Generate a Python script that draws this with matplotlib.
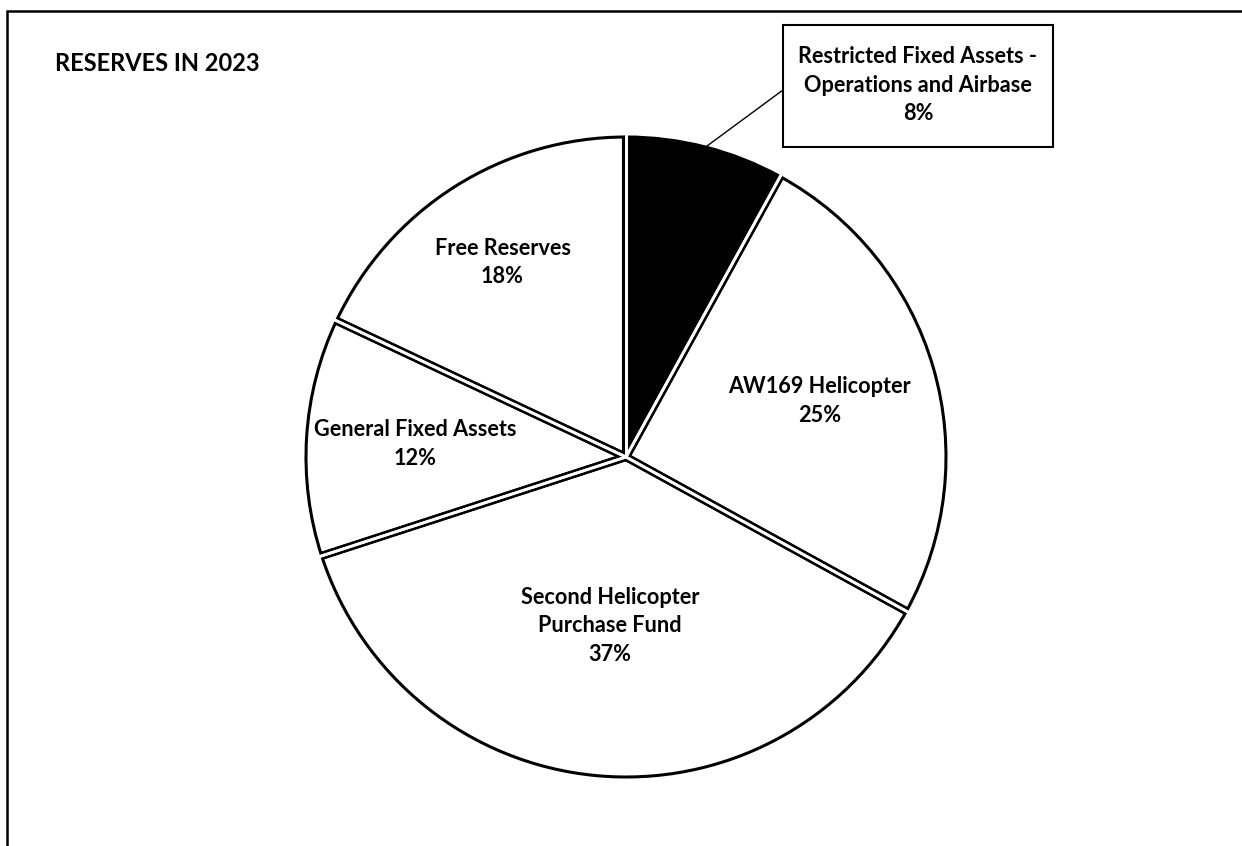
import numpy as np
import matplotlib
matplotlib.use("Agg")
import matplotlib.pyplot as plt
from matplotlib.patches import Rectangle

plt.rcParams['font.family'] = ['Lato', 'DejaVu Sans']

title = "RESERVES IN 2023"
categories = ["Restricted Fixed Assets -\nOperations and Airbase",
              "AW169 Helicopter",
              "Second Helicopter\nPurchase Fund",
              "General Fixed Assets",
              "Free Reserves"]
values = [8, 25, 37, 12, 18]
colors = ["black", "white", "white", "white", "white"]

W, H = 1242, 846
fig = plt.figure(figsize=(W / 100, H / 100), dpi=100)
ax = fig.add_axes([0, 0, 1, 1])

cx, cy, R = 626, H - 457, 320
wedges, _ = ax.pie(values, colors=colors, startangle=90, counterclock=False,
                   center=(cx, cy), radius=R, frame=True,
                   wedgeprops=dict(edgecolor='black', linewidth=2.2))
ax.set_xlim(0, W)
ax.set_ylim(0, H)
ax.set_aspect('equal')
ax.axis('off')

# double-line boundaries between slices
for w in wedges:
    for ang in (w.theta1, w.theta2):
        a = np.deg2rad(ang)
        ax.plot([cx, cx + R * np.cos(a)], [cy, cy + R * np.sin(a)],
                color='black', lw=5.8, solid_capstyle='butt', zorder=5)
for w in wedges:
    for ang in (w.theta1, w.theta2):
        a = np.deg2rad(ang)
        ax.plot([cx, cx + (R + 3) * np.cos(a)], [cy, cy + (R + 3) * np.sin(a)],
                color='white', lw=2.0, solid_capstyle='butt', zorder=6)

pct = [f"{v}%" for v in values]
label_dist = [None, 0.63, 0.53, 0.66, 0.72]
fs = 15.6
ls = 1.45
for i, w in enumerate(wedges):
    if label_dist[i] is None:
        continue
    mid = np.deg2rad((w.theta1 + w.theta2) / 2)
    x = cx + label_dist[i] * R * np.cos(mid)
    y = cy + label_dist[i] * R * np.sin(mid)
    ax.text(x, y, categories[i] + "\n" + pct[i], ha='center', va='center',
            fontsize=fs, fontweight='bold', linespacing=ls, zorder=10)

# callout for the first slice
w0 = wedges[0]
mid = np.deg2rad((w0.theta1 + w0.theta2) / 2)
px, py = cx + R * np.cos(mid), cy + R * np.sin(mid)
bx0, bx1, by0, by1 = 783, 1053, H - 147, H - 25
ax.plot([px, bx0], [py, H - 90], color='black', lw=1.0, zorder=8)
ax.add_patch(Rectangle((bx0, by0), bx1 - bx0, by1 - by0, facecolor='white',
                       edgecolor='black', lw=1.5, zorder=9))
ax.text((bx0 + bx1) / 2, (by0 + by1) / 2 + 1, categories[0] + "\n" + pct[0],
        ha='center', va='center', fontsize=fs, fontweight='bold',
        linespacing=ls, zorder=10)

# title
ax.text(55, H - 63, title, ha='left', va='center', fontsize=17,
        fontweight='bold', zorder=10)

# frame (left and top)
ax.plot([7, 7, W], [0, H - 11, H - 11], color='black', lw=1.8,
        solid_joinstyle='miter', zorder=10)

fig.savefig("out.png", dpi=100)
